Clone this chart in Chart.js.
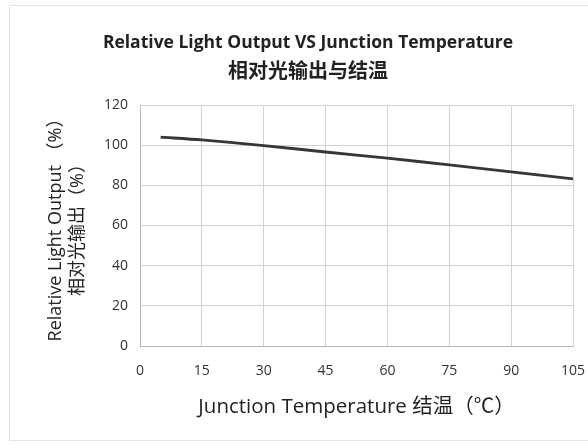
<!DOCTYPE html>
<html>
<head>
<meta charset="utf-8">
<script src="https://cdn.jsdelivr.net/npm/chart.js@4"></script>
<style>
  html, body { margin: 0; padding: 0; background: #fff; }
  #frame { position: absolute; left: 9px; top: 5px; width: 600px; height: 436px; border: 1px solid #e2e2e2; box-sizing: border-box; }
  #wrap { position: absolute; left: 0; top: 0; width: 588px; height: 445px; }
</style>
</head>
<body>
<div id="frame"></div>
<div id="wrap"><canvas id="chart" width="588" height="445"></canvas></div>
<script>
// temperature (°C) and relative light output (%)
const temps = [5, 15, 30, 45, 60, 75, 90, 105];
const output = [104, 102.6, 99.8, 96.6, 93.5, 90.2, 86.7, 83.2];
const xTicks = [0, 15, 30, 45, 60, 75, 90, 105];
const yTicks = [0, 20, 40, 60, 80, 100, 120];

const points = temps.map((t, i) => ({ x: t, y: output[i] }));
const fontFam = '"Open Sans", "Noto Sans CJK SC", sans-serif';

new Chart(document.getElementById('chart').getContext('2d'), {
    type: 'line',
    data: {
        datasets: [{
            data: points,
            borderColor: '#363636',
            borderWidth: 2.8,
            pointRadius: 0,
            tension: 0.3,
            fill: false
        }]
    },
    options: {
        responsive: false,
        animation: false,
        layout: { padding: { left: 43, right: 15, top: 0, bottom: 0 } },
        plugins: {
            legend: { display: false },
            tooltip: { enabled: false },
            title: {
                display: true,
                text: 'Relative Light Output VS Junction Temperature',
                color: '#222',
                font: { family: fontFam, size: 17.5, weight: 'bold', lineHeight: 1.2 },
                padding: { top: 33, bottom: 6 }
            },
            subtitle: {
                display: true,
                text: '相对光输出与结温',
                color: '#222',
                font: { family: fontFam, size: 20, weight: 'bold', lineHeight: 1.2 },
                padding: { top: 0, bottom: 21 }
            }
        },
        scales: {
            x: {
                type: 'linear',
                min: 0,
                max: 105,
                afterBuildTicks: s => { s.ticks = xTicks.map(v => ({ value: v })); },
                grid: { color: '#d2d2d2', drawTicks: false },
                border: { color: '#b8b8b8' },
                ticks: { color: '#333', font: { family: fontFam, size: 14 }, padding: 17, maxRotation: 0 },
                title: {
                    display: true,
                    text: 'Junction Temperature 结温（℃）',
                    color: '#222',
                    font: { family: fontFam, size: 20.5, lineHeight: 1.2 },
                    padding: { top: 0, bottom: 26 }
                },
                afterFit: s => { s.height = 99; s.paddingLeft = 0; s.paddingRight = 0; }
            },
            y: {
                min: 0,
                max: 120,
                afterBuildTicks: s => { s.ticks = yTicks.map(v => ({ value: v })); },
                grid: { color: '#d2d2d2', drawTicks: false },
                border: { color: '#b8b8b8' },
                ticks: { color: '#333', font: { family: fontFam, size: 14 }, padding: 12 },
                title: {
                    display: true,
                    text: ['Relative Light Output （%）', '相对光输出（%）'],
                    color: '#222',
                    font: { family: fontFam, size: 18, lineHeight: 1.2 },
                    padding: { top: 2, bottom: 0 }
                },
                afterFit: s => { s.width = 97; s.paddingTop = 0; s.paddingBottom = 0; }
            }
        }
    }
});
</script>
</body>
</html>
